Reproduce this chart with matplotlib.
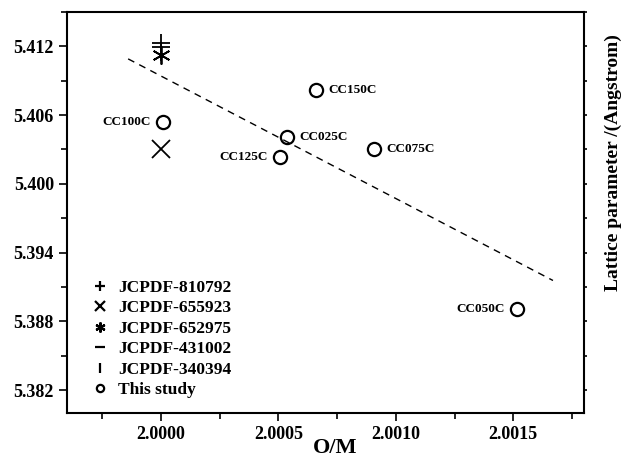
import matplotlib
matplotlib.use('Agg')
import matplotlib.pyplot as plt
from matplotlib.ticker import MultipleLocator

plt.rcParams['font.family'] = ['Liberation Serif', 'DejaVu Serif']
plt.rcParams['font.weight'] = 'bold'

# This study samples
sample_names = ['CC100C', 'CC125C', 'CC025C', 'CC150C', 'CC075C', 'CC050C']
sample_om = [2.00001, 2.000506, 2.000535, 2.00066, 2.000906, 2.001516]
sample_a = [5.4054, 5.4023, 5.4041, 5.4082, 5.4030, 5.3891]
label_side = ['left', 'left', 'right', 'right', 'right', 'left']

# JCPDF reference values
ref_names = ['JCPDF-810792', 'JCPDF-655923', 'JCPDF-652975', 'JCPDF-431002', 'JCPDF-340394']
ref_om = [2.0000, 2.0000, 2.0000, 2.0000, 2.0000]
ref_a = [5.4123, 5.4030, 5.4112, 5.4119, 5.4115]
ref_markers = ['+', 'x', (6, 2, 0), '_', '|']

# linear trend line end points
fit_om = [1.99986, 2.001669]
fit_a = [5.4109, 5.39157]

fig = plt.figure(figsize=(6.21, 4.57), dpi=100)
ax = fig.add_axes([0.108, 0.096, 0.832, 0.878])

ax.plot(fit_om, fit_a, color='black', linestyle=(0, (5, 4)), linewidth=1.0)

for name, x, y, m in zip(ref_names, ref_om, ref_a, ref_markers):
    ax.plot(x, y, linestyle='none', marker=m, color='black',
            markersize=13, markeredgewidth=1.3, label=name)

ax.plot(sample_om, sample_a, linestyle='none', marker='o', markersize=9.5,
        markerfacecolor='none', markeredgecolor='black', markeredgewidth=1.6,
        label='This study')

for name, x, y, side in zip(sample_names, sample_om, sample_a, label_side):
    dx = 9 if side == 'right' else -9
    ax.annotate(name, (x, y), xytext=(dx, 0), textcoords='offset points',
                ha='left' if side == 'right' else 'right', va='center',
                fontsize=9.5, fontweight='bold')

ax.set_xlim(1.9996, 2.0018)
ax.set_ylim(5.380, 5.415)
ax.xaxis.set_major_locator(MultipleLocator(0.0005))
ax.xaxis.set_minor_locator(MultipleLocator(0.00025))
ax.yaxis.set_major_locator(MultipleLocator(0.006))
ax.yaxis.set_minor_locator(MultipleLocator(0.003))
ax.xaxis.set_major_formatter(plt.FormatStrFormatter('%.4f'))
ax.yaxis.set_major_formatter(plt.FormatStrFormatter('%.3f'))

ax.tick_params(which='both', direction='out', labelsize=13, width=1.2)
ax.tick_params(which='major', length=6)
ax.tick_params(which='minor', length=4)
for lab in ax.get_xticklabels() + ax.get_yticklabels():
    lab.set_fontweight('bold')
for sp in ax.spines.values():
    sp.set_linewidth(1.5)

# short ticks on right side
axr = ax.twinx()
axr.set_ylim(ax.get_ylim())
axr.yaxis.set_major_locator(MultipleLocator(0.003))
axr.tick_params(axis='y', direction='out', length=2.5, width=1.2, labelright=False)
for sp in axr.spines.values():
    sp.set_visible(False)

fig.text(0.54, 0.008, 'O/M', ha='center', va='baseline',
         fontsize=16, fontweight='bold')
fig.text(0.987, 0.645, 'Lattice parameter /(Angstrom)', rotation=90,
         ha='center', va='center', fontsize=14, fontweight='bold')

leg = ax.legend(loc='lower left', frameon=False, fontsize=12.5, markerscale=0.55,
                handletextpad=0.3, labelspacing=0.25, handlelength=1.5,
                borderaxespad=0.0, bbox_to_anchor=(0.025, 0.02))
for h in leg.legend_handles:
    h.set_markeredgewidth(1.6)

fig.savefig('out.png', dpi=100)
